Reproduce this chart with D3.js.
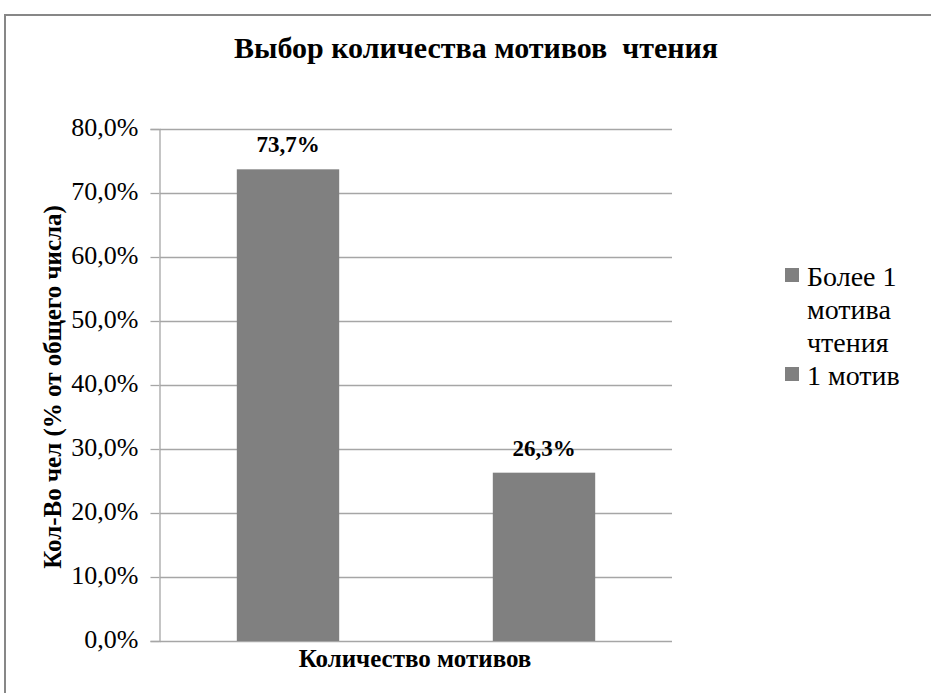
<!DOCTYPE html>
<html>
<head>
<meta charset="utf-8">
<script src="https://cdn.jsdelivr.net/npm/d3@7"></script>
<style>
  body { margin: 0; background: #fff; }
</style>
</head>
<body>
<div id="chart"></div>
<script>
// series shown as two bars inside the single category
const seriesNames = ["Более 1 мотива чтения", "1 мотив"];
const seriesValues = [73.7, 26.3];
const legendLines = [["Более 1", "мотива", "чтения"], ["1 мотив"]];
const yTicks = [0, 10, 20, 30, 40, 50, 60, 70, 80];

const width = 931;
const height = 693;
const plotLeft = 160, plotRight = 672, plotTop = 129, plotBottom = 641;
const serif = "Liberation Serif";

const fmt = v => v.toFixed(1).replace(".", ",") + "%";

const svg = d3.select("#chart")
              .append("svg")
              .attr("width", width)
              .attr("height", height);

// outer frame
svg.append("rect")
   .attr("x", 5)
   .attr("y", 15)
   .attr("width", 940)
   .attr("height", 700)
   .attr("fill", "none")
   .attr("stroke", "#878787")
   .attr("stroke-width", 2);

const xScale = d3.scaleBand()
                 .domain(seriesNames)
                 .range([plotLeft, plotRight])
                 .paddingInner(0.6)
                 .paddingOuter(0.3);

const yScale = d3.scaleLinear()
                 .domain([0, 80])
                 .range([plotBottom, plotTop]);

// gridlines
svg.append("g")
   .selectAll("line")
   .data(yTicks)
   .enter()
   .append("line")
   .attr("x1", plotLeft)
   .attr("x2", plotRight)
   .attr("y1", d => Math.round(yScale(d)) + 0.5)
   .attr("y2", d => Math.round(yScale(d)) + 0.5)
   .attr("stroke", "#a6a6a6")
   .attr("stroke-width", 1.3);

// y axis
const yAxis = d3.axisLeft(yScale)
                .tickValues(yTicks)
                .tickFormat(fmt)
                .tickSize(9)
                .tickPadding(12);

const yG = svg.append("g")
   .attr("transform", `translate(${plotLeft - 0.5}, 0)`)
   .call(yAxis);
yG.select(".domain").attr("stroke", "#a6a6a6").attr("stroke-width", 1.3);
yG.selectAll(".tick line").attr("stroke", "#a6a6a6").attr("stroke-width", 1.3);
yG.selectAll(".tick text")
  .attr("font-family", serif)
  .attr("font-size", 26)
  .attr("fill", "#000")
  .attr("dy", "0.25em");

// bars
svg.selectAll(".bar")
   .data(seriesValues)
   .enter()
   .append("rect")
   .attr("class", "bar")
   .attr("x", (d, i) => xScale(seriesNames[i]))
   .attr("y", d => yScale(d))
   .attr("width", xScale.bandwidth())
   .attr("height", d => yScale(0) - yScale(d))
   .attr("fill", "#808080");

// value labels
svg.selectAll(".val")
   .data(seriesValues)
   .enter()
   .append("text")
   .attr("class", "val")
   .attr("x", (d, i) => xScale(seriesNames[i]) + xScale.bandwidth() / 2)
   .attr("y", d => yScale(d) - 17)
   .attr("text-anchor", "middle")
   .attr("font-family", serif)
   .attr("font-size", 23)
   .attr("font-weight", "bold")
   .text(fmt);

// title
svg.append("text")
   .attr("x", 476)
   .attr("y", 58)
   .attr("text-anchor", "middle")
   .attr("font-family", serif)
   .attr("font-size", 30)
   .attr("font-weight", "bold")
   .attr("xml:space", "preserve")
   .style("white-space", "pre")
   .text("Выбор количества мотивов  чтения");

// x axis title
svg.append("text")
   .attr("x", 415)
   .attr("y", 667)
   .attr("text-anchor", "middle")
   .attr("font-family", serif)
   .attr("font-size", 25)
   .attr("font-weight", "bold")
   .text("Количество мотивов");

// y axis title
svg.append("text")
   .attr("transform", "translate(61, 387) rotate(-90)")
   .attr("text-anchor", "middle")
   .attr("font-family", serif)
   .attr("font-size", 25)
   .attr("font-weight", "bold")
   .text("Кол-Во чел (% от общего числа)");

// legend
const legend = svg.append("g");
let ly = 286;
legendLines.forEach(lines => {
  legend.append("rect")
        .attr("x", 785)
        .attr("y", ly - 18)
        .attr("width", 14)
        .attr("height", 14)
        .attr("fill", "#808080");
  lines.forEach((t, j) => {
    legend.append("text")
          .attr("x", 807)
          .attr("y", ly + j * 33)
          .attr("font-family", serif)
          .attr("font-size", 28)
          .text(t);
  });
  ly += lines.length * 33;
});
</script>
</body>
</html>
